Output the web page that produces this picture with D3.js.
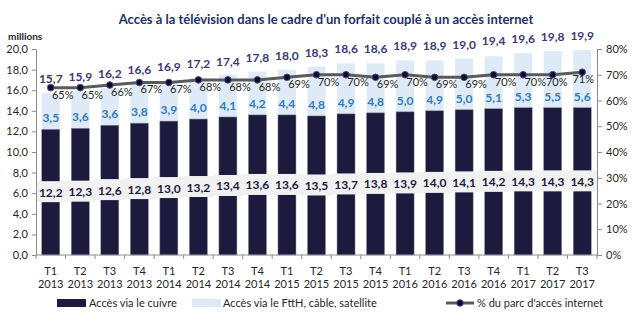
<!DOCTYPE html>
<html><head><meta charset="utf-8">
<script src="https://cdn.jsdelivr.net/npm/d3@7"></script>
<style>
html,body{margin:0;padding:0;background:#fff;}
svg{display:block;font-family:Lato,"Open Sans",sans-serif;}
</style></head>
<body><svg id="chart" width="633" height="322"></svg>
<script>
const quarters = ["T1","T2","T3","T4","T1","T2","T3","T4","T1","T2","T3","T4","T1","T2","T3","T4","T1","T2","T3"];
const years = ["2013","2013","2013","2013","2014","2014","2014","2014","2015","2015","2015","2015","2016","2016","2016","2016","2017","2017","2017"];
const cuivre = [12.2,12.3,12.6,12.8,13.0,13.2,13.4,13.6,13.6,13.5,13.7,13.8,13.9,14.0,14.1,14.2,14.3,14.3,14.3];
const fibre = [3.5,3.6,3.6,3.8,3.9,4.0,4.1,4.2,4.4,4.8,4.9,4.8,5.0,4.9,5.0,5.1,5.3,5.5,5.6];
const totals = [15.7,15.9,16.2,16.6,16.9,17.2,17.4,17.8,18.0,18.3,18.6,18.6,18.9,18.9,19.0,19.4,19.6,19.8,19.9];
const pct = [65,65,66,67,67,68,68,68,69,70,70,69,70,69,69,70,70,70,71];
const leftTicks = [0,2,4,6,8,10,12,14,16,18,20];
const rightTicks = [0,10,20,30,40,50,60,70,80];
const seriesNames = ["Accès via le cuivre","Accès via le FttH, câble, satellite","% du parc d'accès internet"];
const title = "Accès à la télévision dans le cadre d'un forfait couplé à un accès internet";

const C_DARK = "#1c1a3d", C_LIGHT = "#deebf7", C_LINE = "#5a5a5a";
const svg = d3.select("#chart");
const L = 36, R = 597, T = 49, B = 255;
const idx = d3.range(cuivre.length);
const x = d3.scaleBand().domain(idx).range([L, R]).paddingInner(0.39).paddingOuter(0.195);
const xb = d3.scaleBand().domain(idx).range([L, R]);
const y = d3.scaleLinear().domain([0, 20]).range([B, T]);
const y2 = d3.scaleLinear().domain([0, 80]).range([B, T]);
const cx = i => x(i) + x.bandwidth() / 2;
const fmt = v => d3.format(".1f")(v).replace(".", ",");

svg.append("rect").attr("width",633).attr("height",322).attr("fill","#fff");

// title
svg.append("text").attr("x", 326).attr("y", 24).attr("text-anchor","middle")
  .attr("font-weight","bold").attr("font-size",13).attr("fill","#1f2f6b").text(title);
svg.append("text").attr("x", 8).attr("y", 40).attr("font-weight","bold")
  .attr("font-size",10).attr("fill","#262626").text("millions");

// bars
svg.append("g").selectAll("rect").data(idx).join("rect")
  .attr("x", i => x(i)).attr("width", x.bandwidth())
  .attr("y", i => y(cuivre[i] + fibre[i])).attr("height", i => y(cuivre[i]) - y(cuivre[i] + fibre[i]))
  .attr("fill", C_LIGHT);
svg.append("g").selectAll("rect").data(idx).join("rect")
  .attr("x", i => x(i)).attr("width", x.bandwidth())
  .attr("y", i => y(cuivre[i])).attr("height", i => y(0) - y(cuivre[i]))
  .attr("fill", C_DARK).attr("stroke","#8a8a9a").attr("stroke-width",0.5);

// copper label boxes
svg.append("g").selectAll("rect").data(idx).join("rect")
  .attr("x", i => xb(i)).attr("width", xb.bandwidth() + 0.5)
  .attr("y", i => y(cuivre[i] / 2) - 11).attr("height", 21)
  .attr("fill", "#f1f1f1");
svg.append("g").selectAll("text").data(idx).join("text")
  .attr("x", cx).attr("y", i => y(cuivre[i] / 2) + 4.5).attr("text-anchor","middle")
  .attr("font-weight","bold").attr("font-size",12).attr("fill",C_DARK).text(i => fmt(cuivre[i]));

// fibre labels
svg.append("g").selectAll("text").data(idx).join("text")
  .attr("x", cx).attr("y", i => y(cuivre[i]) - 7).attr("text-anchor","middle")
  .attr("font-weight","bold").attr("font-size",12).attr("fill","#2e7bc4").text(i => fmt(fibre[i]));

// total labels
svg.append("g").selectAll("text").data(idx).join("text")
  .attr("x", cx).attr("y", i => y(totals[i]) - 10).attr("text-anchor","middle")
  .attr("font-weight","bold").attr("font-size",12).attr("fill","#3d3977").text(i => fmt(totals[i]));

// line
const line = d3.line().x(i => cx(i)).y(i => y2(pct[i]));
svg.append("path").datum(idx).attr("d", line).attr("fill","none")
  .attr("stroke", C_LINE).attr("stroke-width", 3);
svg.append("g").selectAll("circle").data(idx).join("circle")
  .attr("cx", cx).attr("cy", i => y2(pct[i])).attr("r", 3.3)
  .attr("fill","#0c0c24").attr("stroke","#4a4690").attr("stroke-width",1);
const n = idx.length;
const pdx = i => i < n - 2 ? 12 : (i === n - 2 ? 4 : 1);
svg.append("g").selectAll("text").data(idx).join("text")
  .attr("x", i => cx(i) + pdx(i)).attr("y", i => y2(pct[i]) + 11).attr("text-anchor","middle")
  .attr("font-size",11).attr("fill","#1f1f1f").text(i => pct[i] + "%");

// axes
const axisStyle = g => {
  g.select(".domain").attr("stroke","#8c8c8c");
  g.selectAll(".tick line").attr("stroke","#8c8c8c");
  g.selectAll(".tick text").attr("fill","#262626").attr("font-size",11).attr("font-family","Lato");
};
svg.append("g").attr("transform",`translate(${L},0)`)
  .call(d3.axisLeft(y).tickValues(leftTicks).tickFormat(fmt).tickSize(4).tickSizeOuter(0).tickPadding(4))
  .call(axisStyle);
svg.append("g").attr("transform",`translate(${R},0)`)
  .call(d3.axisRight(y2).tickValues(rightTicks).tickFormat(d => d + "%").tickSize(5).tickSizeOuter(0).tickPadding(4))
  .call(axisStyle);
const xg = svg.append("g").attr("transform",`translate(0,${B})`);
xg.append("line").attr("x1", L).attr("x2", R).attr("stroke","#8c8c8c");
xg.selectAll("line.t").data(d3.range(n + 1)).join("line").attr("class","t")
  .attr("x1", i => i < n ? xb(i) : R).attr("x2", i => i < n ? xb(i) : R)
  .attr("y1", 0).attr("y2", 4).attr("stroke","#8c8c8c");
xg.selectAll("text.q").data(idx).join("text").attr("class","q")
  .attr("x", i => xb(i) + xb.bandwidth()/2).attr("y", 20).attr("text-anchor","middle")
  .attr("font-size",11).attr("fill","#262626").text(i => quarters[i]);
xg.selectAll("text.yr").data(idx).join("text").attr("class","yr")
  .attr("x", i => xb(i) + xb.bandwidth()/2).attr("y", 33).attr("text-anchor","middle")
  .attr("font-size",11).attr("fill","#262626").text(i => years[i]);

// legend
const lg = svg.append("g");
lg.append("rect").attr("x",57).attr("y",299).attr("width",29).attr("height",8).attr("fill",C_DARK);
lg.append("text").attr("x",89).attr("y",307).attr("font-size",11).attr("fill","#262626").text(seriesNames[0]);
lg.append("rect").attr("x",192).attr("y",299).attr("width",29).attr("height",8).attr("fill",C_LIGHT);
lg.append("text").attr("x",223).attr("y",307).attr("font-size",11).attr("fill","#262626").text(seriesNames[1]);
lg.append("line").attr("x1",446).attr("x2",474).attr("y1",303).attr("y2",303).attr("stroke",C_LINE).attr("stroke-width",3);
lg.append("circle").attr("cx",460).attr("cy",303).attr("r",3.3).attr("fill","#0c0c24").attr("stroke","#4a4690");
lg.append("text").attr("x",477).attr("y",307).attr("font-size",11).attr("fill","#262626").text(seriesNames[2]);
</script></body></html>
